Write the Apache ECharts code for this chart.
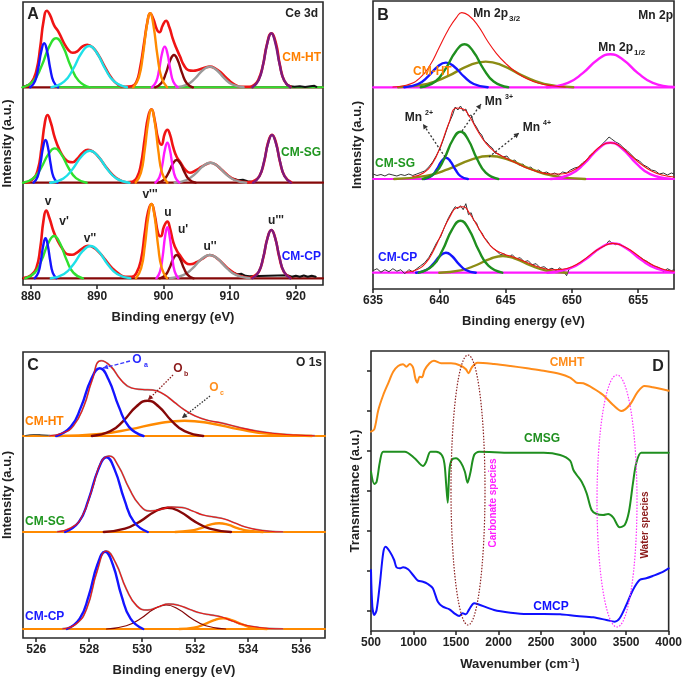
<!DOCTYPE html>
<html><head><meta charset="utf-8">
<script src="https://cdn.jsdelivr.net/npm/echarts@6/dist/echarts.min.js"></script>
<style>html,body{margin:0;padding:0;background:#fff}#c{width:685px;height:680px}</style>
</head><body><div id="c"></div>
<script>
// ---------------- Panel A : Ce 3d (binding energy eV, intensity a.u. above each stack baseline) -------------
const A_xTicks = [880, 890, 900, 910, 920];
const A_xRange = [878.8, 924.1];
// CM-HT
const A_HT_red = [[879.0,0.5],[880.0,4],[880.8,16],[881.4,40],[881.9,66],[882.4,76.5],[882.9,72],[883.5,62],[884.2,55],[885.0,44],[885.7,37],[886.3,34.5],[887.0,36],[887.8,41],[888.5,42.5],[889.3,40],[890.2,32],[891.2,20],[892.2,9],[893.2,2.5],[894.2,0.5],[895.2,1],[895.9,5],[896.5,20],[897.1,45],[897.6,66],[898.0,74],[898.5,68],[899.0,58],[899.4,55],[899.9,62],[900.4,66.5],[900.9,60],[901.4,49],[901.9,40],[902.5,31],[903.1,22],[903.8,17],[904.5,16.5],[905.3,17.5],[906.2,19.5],[907.0,20.7],[907.8,19],[908.8,14],[909.8,7.5],[910.7,3],[911.7,0.5],[913.0,0.5],[913.6,2],[914.3,7],[915.0,21],[915.6,42],[916.3,54],[917.0,44],[917.6,22],[918.3,6],[919.2,0.5]];
const A_HT_blue = [[879.9,0],[880.6,5.9],[881.09,18.9],[881.58,36.7],[882.0,44],[882.42,36.7],[882.91,18.9],[883.4,5.9],[884.1,0]];
const A_HT_green = [[878.7,0],[880.4,6.6],[881.59,21.1],[882.78,40.9],[883.8,49],[884.82,40.9],[886.01,21.1],[887.2,6.6],[888.9,0]];
const A_HT_cyan = [[883.1,0],[885.0,5.6],[886.33,17.8],[887.66,34.5],[888.8,41.3],[889.94,34.5],[891.27,17.8],[892.6,5.6],[894.5,0]];
const A_HT_orange = [[895.45,0],[896.3,10],[896.9,31.8],[897.5,61.8],[898.0,74],[898.5,61.8],[899.1,31.8],[899.7,10],[900.55,0]];
const A_HT_magenta = [[898.25,0],[898.9,5.5],[899.35,17.5],[899.8,34],[900.2,40.7],[900.6,34],[901.05,17.5],[901.5,5.5],[902.15,0]];
const A_HT_darkred = [[898.75,0],[899.7,4.4],[900.37,13.9],[901.03,27],[901.6,32.3],[902.17,27],[902.84,13.9],[903.5,4.4],[904.45,0]];
const A_HT_gray = [[901.9,0],[903.6,2.8],[904.79,8.9],[905.98,17.3],[907.0,20.7],[908.02,17.3],[909.21,8.9],[910.4,2.8],[912.1,0]];
const A_HT_purple = [[913.45,0],[914.4,7.3],[915.07,23.2],[915.73,45.1],[916.3,54],[916.87,45.1],[917.54,23.2],[918.2,7.3],[919.15,0]];
const A_HT_rawL = [[878.9,0.5],[879.3,1.5],[879.7,2.5],[880.1,5],[880.5,9]];
const A_HT_rawR = [[918.6,3],[919.2,1],[919.8,0.5],[920.6,1],[921.4,0.3],[922.2,1],[922.8,1.5],[923.1,0.5]];
// CM-SG
const A_SG_red = [[879.2,0],[880.2,3],[881.0,12],[881.6,35],[882.1,60],[882.5,67.7],[883.0,60],[883.6,45],[884.3,33],[885.0,25],[885.7,21],[886.3,20.5],[887.0,24],[887.8,30],[888.6,33],[889.4,31],[890.3,25],[891.3,16],[892.3,8],[893.3,3],[894.4,0.5],[895.3,1],[896.0,5],[896.6,18],[897.2,45],[897.7,66],[898.2,73.3],[898.7,62],[899.2,44],[899.7,38],[900.2,49],[900.6,53],[901.0,48],[901.5,35],[902.0,26],[902.6,20],[903.3,13],[904.0,10],[904.8,12],[905.8,16],[906.6,19],[907.1,20],[907.8,18.5],[908.8,13],[909.8,7],[910.8,3],[911.8,1],[913.0,0.5],[913.6,1.5],[914.5,6.5],[915.2,20.5],[915.8,40],[916.4,48],[917.0,40],[917.6,21],[918.3,6.5],[919.3,0.5]];
const A_SG_blue = [[880.4,0],[881.0,5.8],[881.42,18.4],[881.84,35.7],[882.2,42.7],[882.56,35.7],[882.98,18.4],[883.4,5.8],[884.0,0]];
const A_SG_green = [[878.8,0],[880.4,4.6],[881.52,14.7],[882.64,28.6],[883.6,34.3],[884.56,28.6],[885.68,14.7],[886.8,4.6],[888.4,0]];
const A_SG_cyan = [[882.9,0],[884.9,4.3],[886.3,13.8],[887.7,26.7],[888.9,32],[890.1,26.7],[891.5,13.8],[892.9,4.3],[894.9,0]];
const A_SG_orange = [[895.8,0],[896.6,9.9],[897.16,31.5],[897.72,61.2],[898.2,73.3],[898.68,61.2],[899.24,31.5],[899.8,9.9],[900.6,0]];
const A_SG_magenta = [[898.8,0],[899.4,5.4],[899.82,17.2],[900.24,33.4],[900.6,40],[900.96,33.4],[901.38,17.2],[901.8,5.4],[902.4,0]];
const A_SG_darkred = [[899.15,0],[900.1,3.1],[900.77,9.8],[901.43,19],[902.0,22.7],[902.57,19],[903.24,9.8],[903.9,3.1],[904.85,0]];
const A_SG_gray = [[901.7,0],[903.5,2.7],[904.76,8.6],[906.02,16.7],[907.1,20],[908.18,16.7],[909.44,8.6],[910.7,2.7],[912.5,0]];
const A_SG_purple = [[913.55,0],[914.5,6.4],[915.17,20.5],[915.83,39.8],[916.4,47.7],[916.97,39.8],[917.64,20.5],[918.3,6.4],[919.25,0]];
const A_SG_rawL = [[879.0,0.3],[879.6,1],[880.2,3],[880.6,6]];
const A_SG_rawR = [[910.6,4],[911.3,2.5],[912.0,3],[912.7,1.5],[913.3,1]];
// CM-CP
const A_CP_red = [[879.0,0.5],[880.0,3],[880.8,10],[881.4,30],[881.9,58],[882.3,67.7],[882.8,60],[883.4,47],[884.0,38],[884.8,29],[885.5,24],[886.2,23.5],[887.0,26],[887.8,30],[888.6,32.5],[889.4,31],[890.3,26],[891.3,18],[892.3,10],[893.3,4.5],[894.3,1.5],[895.2,1.5],[895.9,5],[896.6,18],[897.2,46],[897.7,67],[898.2,74.3],[898.7,63],[899.2,45],[899.6,42],[900.1,52],[900.6,56.7],[901.0,50],[901.5,36],[902.0,28],[902.6,22],[903.3,16],[904.0,14],[905.0,16],[906.0,20],[907.0,23.3],[908.0,20.5],[909.0,14.5],[910.0,8.5],[911.0,4],[912.0,1.5],[913.0,0.5],[913.6,2],[914.4,6.5],[915.1,21],[915.7,40],[916.3,48.3],[916.9,40],[917.5,21],[918.2,6.5],[919.2,0.5]];
const A_CP_blue = [[880.55,0],[881.1,5.4],[881.49,17.2],[881.87,33.4],[882.2,40],[882.53,33.4],[882.92,17.2],[883.3,5.4],[883.85,0]];
const A_CP_green = [[879.15,0],[880.6,5.7],[881.62,18.2],[882.63,35.3],[883.5,42.3],[884.37,35.3],[885.39,18.2],[886.4,5.7],[887.85,0]];
const A_CP_cyan = [[883.0,0],[885.0,4.4],[886.4,13.9],[887.8,27],[889.0,32.3],[890.2,27],[891.6,13.9],[893.0,4.4],[895.0,0]];
const A_CP_orange = [[895.86,0],[896.64,10],[897.19,31.9],[897.73,62],[898.2,74.3],[898.67,62],[899.21,31.9],[899.76,10],[900.54,0]];
const A_CP_magenta = [[898.95,0],[899.5,6.9],[899.89,21.9],[900.27,42.6],[900.6,51],[900.93,42.6],[901.32,21.9],[901.7,6.9],[902.25,0]];
const A_CP_darkred = [[899.45,0],[900.3,3.1],[900.9,10],[901.49,19.5],[902.0,23.3],[902.51,19.5],[903.1,10],[903.7,3.1],[904.55,0]];
const A_CP_gray = [[901.0,0],[903.0,3.1],[904.4,10],[905.8,19.5],[907.0,23.3],[908.2,19.5],[909.6,10],[911.0,3.1],[913.0,0]];
const A_CP_purple = [[913.45,0],[914.4,6.5],[915.07,20.8],[915.73,40.3],[916.3,48.3],[916.87,40.3],[917.54,20.8],[918.2,6.5],[919.15,0]];
const A_CP_rawL = [[879.2,0.3],[879.8,1.5],[880.3,4],[880.6,7]];
const A_CP_rawR = [[910.5,6],[911.2,4],[911.8,4.5],[912.4,2.5],[913.0,2],[918.7,3],[919.4,1.5],[920.0,2.5],[920.6,1.5],[921.2,2.8],[921.8,1.5],[922.4,2.5],[923.0,1.5]];

// ---------------- Panel B : Mn 2p -------------
const B_xTicks = [635, 640, 645, 650, 655];
const B_xRange = [635, 657.7];
const B_HT_red = [[636.5,0.3],[637.5,2],[638.5,9],[639.3,22],[640.0,40],[640.7,58],[641.3,70],[641.7,74.7],[642.2,72],[642.9,62],[643.6,47],[644.3,34],[645.0,24],[645.8,15],[646.6,8.5],[647.5,4],[648.5,1.5],[649.5,0.3]];
const B_HT_blue = [[637.35,0],[638.4,3.3],[639.14,10.6],[639.87,20.6],[640.5,24.7],[641.13,20.6],[641.87,10.6],[642.6,3.3],[643.65,0]];
const B_HT_green = [[638.6,0],[639.7,5.8],[640.47,18.5],[641.24,35.9],[641.9,43],[642.56,35.9],[643.33,18.5],[644.1,5.8],[645.2,0]];
const B_HT_olive = [[636.9,0],[639.1,3.5],[640.64,11.1],[642.18,21.5],[643.5,25.7],[644.82,21.5],[646.36,11.1],[647.9,3.5],[650.1,0]];
const B_HT_magenta = [[648.1,0],[649.7,4.5],[650.82,14.2],[651.94,27.6],[652.9,33],[653.86,27.6],[654.98,14.2],[656.1,4.5],[657.7,0.3]];
const B_SG_raw = [[635.0,5],[635.3,3.5],[635.6,4.5],[635.9,3],[636.2,5],[636.5,4],[636.8,3],[637.1,4.5],[637.4,3.5],[637.7,5],[638.0,3.5],[638.3,5],[638.6,6.5],[638.9,8],[639.2,12],[639.5,17],[639.8,24],[640.1,32],[640.4,43],[640.7,55],[641.0,64],[641.2,72],[641.4,69],[641.6,73],[641.8,68],[642.0,70],[642.2,63],[642.4,64],[642.6,56],[642.8,52],[643.0,47],[643.2,44],[643.4,38],[643.6,36],[643.8,33],[644.0,31],[644.2,26],[644.5,25],[644.8,22],[645.1,23],[645.4,18],[645.7,19],[646.0,14],[646.3,15],[646.6,11],[646.9,12],[647.2,8],[647.5,9],[647.8,6],[648.1,7],[648.4,4.5],[648.7,6],[649.0,4],[649.3,7],[649.6,6],[649.9,9],[650.2,11],[650.5,12],[650.8,16],[651.1,19],[651.4,24],[651.7,27],[652.0,31],[652.3,35],[652.6,39],[652.8,42],[653.0,40],[653.3,37],[653.6,35],[653.9,31],[654.2,28],[654.5,24],[654.8,20],[655.1,18],[655.4,14],[655.7,12],[656.0,9],[656.3,8],[656.6,5],[656.9,6],[657.2,4],[657.5,6],[657.7,5]];
const B_SG_red = [[638.0,2.5],[638.8,6],[639.5,16],[640.1,33],[640.7,55],[641.3,71],[641.8,70],[642.3,62],[642.9,48],[643.5,36],[644.2,27],[645.0,21],[645.8,16],[646.6,11],[647.5,7],[648.4,5],[649.2,5],[650.0,8],[650.8,15],[651.6,26],[652.3,34],[652.9,36.3],[653.6,33],[654.4,24],[655.2,15],[656.0,8],[656.8,4],[657.7,2]];
const B_SG_blue = [[638.85,0],[639.4,2.9],[639.79,9.2],[640.17,17.8],[640.5,21.3],[640.83,17.8],[641.22,9.2],[641.6,2.9],[642.15,0]];
const B_SG_green = [[638.75,0],[639.7,6.4],[640.37,20.3],[641.03,39.5],[641.6,47.3],[642.17,39.5],[642.84,20.3],[643.5,6.4],[644.45,0]];
const B_SG_olive = [[636.6,0],[639.0,3.1],[640.68,9.9],[642.36,19.2],[643.8,23],[645.24,19.2],[646.92,9.9],[648.6,3.1],[651.0,0]];
const B_SG_magenta = [[648.4,0],[649.9,4.9],[650.95,15.6],[652.0,30.3],[652.9,36.3],[653.8,30.3],[654.85,15.6],[655.9,4.9],[657.4,0.4]];
const B_CP_raw = [[635.0,2],[635.3,4],[635.6,0.5],[635.9,3],[636.2,1],[636.5,4],[636.8,1.5],[637.1,3],[637.4,-1],[637.7,3],[638.0,1],[638.3,4],[638.6,7],[638.9,10],[639.2,15],[639.5,22],[639.8,30],[640.1,36],[640.4,46],[640.7,55],[641.0,62],[641.2,66],[641.4,64],[641.6,67],[641.8,63],[642.0,69],[642.2,58],[642.4,60],[642.6,52],[642.8,50],[643.0,43],[643.2,40],[643.4,35],[643.6,32],[643.8,28],[644.0,25],[644.3,22],[644.6,18],[644.9,19],[645.2,15],[645.5,18],[645.8,14],[646.1,15],[646.4,11],[646.7,12],[647.0,8],[647.3,9],[647.6,5],[647.9,6],[648.2,3],[648.5,4.5],[648.8,2],[649.1,5],[649.4,1],[649.6,-3],[649.8,4],[650.1,6],[650.4,8],[650.7,10],[651.0,13],[651.3,17],[651.6,19],[651.9,22],[652.2,25],[652.5,27],[652.8,32],[653.0,30],[653.3,28],[653.6,29],[653.9,26],[654.2,24],[654.5,21],[654.8,18],[655.1,16],[655.4,13],[655.7,11],[656.0,8],[656.3,6],[656.6,5],[656.9,1],[657.2,4],[657.5,2],[657.7,3]];
const B_CP_red = [[637.5,0.5],[638.3,3],[639.0,10],[639.6,23],[640.2,40],[640.8,56],[641.3,65],[641.8,66],[642.3,59],[642.9,46],[643.5,33],[644.1,24],[644.8,19],[645.5,16],[646.2,12.5],[647.0,8],[647.8,4.5],[648.5,3],[649.3,3.5],[650.0,6],[650.8,12],[651.6,20],[652.4,26.5],[653.1,29.3],[653.8,27],[654.6,21],[655.4,13],[656.2,7],[657.0,3],[657.7,1.5]];
const B_CP_blue = [[638.25,0],[639.0,2.7],[639.53,8.6],[640.05,16.7],[640.5,20],[640.95,16.7],[641.48,8.6],[642.0,2.7],[642.75,0]];
const B_CP_green = [[638.45,0],[639.5,7],[640.24,22.4],[640.97,43.4],[641.6,52],[642.23,43.4],[642.97,22.4],[643.7,7],[644.75,0]];
const B_CP_olive = [[640.0,0],[641.6,2.3],[642.72,7.2],[643.84,13.9],[644.8,16.7],[645.76,13.9],[646.88,7.2],[648.0,2.3],[649.6,0]];
const B_CP_magenta = [[648.15,0],[649.8,4],[650.96,12.6],[652.11,24.5],[653.1,29.3],[654.09,24.5],[655.25,12.6],[656.4,4],[657.7,0.6]];

// ---------------- Panel C : O 1s -------------
const C_xTicks = [526, 528, 530, 532, 534, 536];
const C_xRange = [525.5, 536.9];
const C_HT_red = [[526.5,0.3],[527.0,3],[527.4,10],[527.8,30],[528.1,55],[528.45,75.3],[528.8,70],[529.2,56],[529.6,48],[530.0,46.5],[530.4,46],[530.8,42],[531.2,34],[531.6,26],[532.0,20],[532.5,15.5],[533.0,13],[533.6,9],[534.3,5],[535.0,2.5],[535.8,1],[536.5,0.3]];
const C_HT_blue = [[526.75,0],[527.3,9.1],[527.69,29.1],[528.07,56.5],[528.4,67.7],[528.73,56.5],[529.12,29.1],[529.5,9.1],[530.05,0]];
const C_HT_darkred = [[528.1,0],[528.8,4.8],[529.29,15.2],[529.78,29.5],[530.2,35.3],[530.62,29.5],[531.11,15.2],[531.6,4.8],[532.3,0]];
const C_HT_orange = [[526.8,0],[528.4,2.1],[529.52,6.6],[530.64,12.8],[531.6,15.3],[532.56,12.8],[533.68,6.6],[534.8,2.1],[536.4,0]];
const C_HT_raw = [[525.6,0.5],[525.9,1.5],[526.2,1.2],[526.5,0.6]];
const C_SG_red = [[526.8,0.3],[527.3,4],[527.7,14],[528.1,42],[528.45,70],[528.75,76],[529.1,66],[529.5,44],[529.9,27],[530.3,21],[530.7,22.5],[531.1,25],[531.5,24.5],[531.9,21],[532.3,17],[532.7,15],[533.1,13],[533.5,9],[533.9,5],[534.3,2.5],[534.8,0.8],[535.3,0.2]];
const C_SG_blue = [[527.09,0],[527.61,10.1],[527.97,32.1],[528.34,62.4],[528.65,74.7],[528.96,62.4],[529.33,32.1],[529.69,10.1],[530.21,0]];
const C_SG_darkred = [[528.55,0],[529.35,3.3],[529.91,10.4],[530.47,20.3],[530.95,24.3],[531.43,20.3],[531.99,10.4],[532.55,3.3],[533.35,0]];
const C_SG_orange = [[531.25,0],[531.8,1.2],[532.19,3.7],[532.57,7.3],[532.9,8.7],[533.23,7.3],[533.62,3.7],[534.0,1.2],[534.55,0]];
const C_CP_red = [[527.0,0.3],[527.5,5],[527.9,20],[528.3,58],[528.65,78],[529.0,66],[529.4,40],[529.8,23],[530.2,19],[530.6,22],[531.0,25],[531.4,23.5],[531.8,19.5],[532.2,16],[532.6,14],[533.0,12],[533.4,8],[533.8,4.5],[534.3,2],[534.8,0.5],[535.3,0.2]];
const C_CP_blue = [[527.16,0],[527.64,10.4],[527.98,33.2],[528.31,64.5],[528.6,77.3],[528.89,64.5],[529.22,33.2],[529.56,10.4],[530.04,0]];
const C_CP_darkred = [[528.65,0],[529.4,3.2],[529.93,10.3],[530.45,20],[530.9,24],[531.35,20],[531.88,10.3],[532.4,3.2],[533.15,0]];
const C_CP_orange = [[531.4,0],[531.95,1.4],[532.34,4.6],[532.72,8.9],[533.05,10.7],[533.38,8.9],[533.77,4.6],[534.15,1.4],[534.7,0]];

// ---------------- Panel D : FTIR (wavenumber, transmittance a.u.) -------------
const D_xTicks = [500, 1000, 1500, 2000, 2500, 3000, 3500, 4000];
const D_xRange = [500, 4000];
const D_CMHT = [[500,199.3],[539,201.7],[586,221],[644,236],[702,247.7],[761,259.3],[819,265],[877,266.7],[916,264.3],[955,267],[994,263.7],[1021,252.7],[1044,248.3],[1072,254.3],[1099,253.7],[1130,261],[1188,267.7],[1239,270.3],[1324,267.7],[1441,267.7],[1558,265.3],[1616,261.7],[1647,257.7],[1686,263.7],[1752,268.3],[1947,267],[2141,265],[2336,262.7],[2530,260.3],[2724,257],[2841,253.3],[2888,250.3],[2919,248.3],[2997,247.7],[3113,242.7],[3230,236],[3347,226],[3444,220],[3541,226],[3638,239.3],[3716,245],[3813,243.7],[4000,240.3]];
const D_CMSG = [[500,159.3],[539,147],[566,149.3],[605,169.3],[644,179.3],[780,179.3],[897,179.3],[1013,172.7],[1111,165],[1149,169.3],[1200,179.3],[1266,179.3],[1332,176],[1363,167.7],[1383,147.7],[1402,128.3],[1422,161],[1449,171],[1499,172.7],[1558,168.3],[1604,159.3],[1635,148.3],[1667,157.7],[1713,176],[1772,179.3],[2141,178.3],[2530,178.3],[2724,176],[2841,170.3],[2880,161],[2919,156],[2977,149.3],[3036,137.7],[3094,121],[3152,117],[3230,116],[3288,117],[3347,113.7],[3424,103.7],[3483,106],[3533,119.3],[3580,147.7],[3619,167.7],[3677,178.3],[3813,178.3],[4000,178.3]];
const D_CMCP = [[500,61],[516,24.3],[539,16],[566,21],[605,47.7],[644,78.3],[671,84.3],[722,79.3],[772,71],[799,63.7],[838,62.7],[877,63.7],[936,61.7],[994,56],[1052,50.3],[1111,49.3],[1169,47],[1227,42.7],[1286,29.3],[1344,24.3],[1422,21.7],[1480,17.7],[1538,15],[1577,17.7],[1616,16.7],[1655,21.7],[1713,27.7],[1752,27],[1947,21],[2141,18.3],[2336,17],[2530,17],[2724,16.7],[2919,15],[3113,13.7],[3269,11],[3366,9.3],[3424,12.7],[3502,26],[3580,41],[3658,51],[3736,52.7],[3813,55],[3911,58.3],[4000,62.7]];

// ---------------- build -------------
const FONT = '"Liberation Sans", Arial, Helvetica, sans-serif';
const INK = '#222';
const COL = {blue:'#1414ff', green:'#2fe02f', cyan:'#1ee0e8', orange:'#ff8a00', magenta:'#ff1aff', darkred:'#850808',
  gray:'#9a9a9a', purple:'#7d1a7d', red:'#f01414', olive:'#8c8c14', dgreen:'#1f8f1f', black:'#111'};
const grids = [
  {left:22, top:2, width:301, height:283},
  {left:373, top:1, width:301, height:288},
  {left:22, top:352, width:303, height:286},
  {left:371, top:351, width:300, height:280}
];
const yMax = grids.map(g => g.height);
const A_base = {HT:197.7, SG:102.3, CP:6.7};
const B_base = {HT:201.7, SG:110, CP:16.3};
const C_base = {HT:202, SG:106, CP:9};

const series = [];
function add(g, pts, base, color, width, z, smooth) {
  series.push({type:'line', xAxisIndex:g, yAxisIndex:g, showSymbol:false, symbol:'none',
    smooth: smooth === undefined ? 0.5 : smooth, silent:true, animation:false, z:z,
    lineStyle:{color:color, width:width, join:'round', cap:'round'}, data: pts.map(p => [p[0], p[1] + base])});
}
function baseline(g, range, base, color, width, z) {
  add(g, [[range[0],0],[range[1],0]], base, color, width, z, false);
}
// Panel A
const A_sets = {
  HT:{red:A_HT_red, blue:A_HT_blue, green:A_HT_green, cyan:A_HT_cyan, orange:A_HT_orange, magenta:A_HT_magenta, darkred:A_HT_darkred, gray:A_HT_gray, purple:A_HT_purple, raw:[A_HT_rawL, A_HT_rawR]},
  SG:{red:A_SG_red, blue:A_SG_blue, green:A_SG_green, cyan:A_SG_cyan, orange:A_SG_orange, magenta:A_SG_magenta, darkred:A_SG_darkred, gray:A_SG_gray, purple:A_SG_purple, raw:[A_SG_rawL, A_SG_rawR]},
  CP:{red:A_CP_red, blue:A_CP_blue, green:A_CP_green, cyan:A_CP_cyan, orange:A_CP_orange, magenta:A_CP_magenta, darkred:A_CP_darkred, gray:A_CP_gray, purple:A_CP_purple, raw:[A_CP_rawL, A_CP_rawR]}
};
for (const k of ['HT','SG','CP']) {
  const s = A_sets[k], b = A_base[k];
  baseline(0, A_xRange, b, COL.darkred, 2.2, 1);
  if (k === 'HT') add(0, [[884,0],[A_xRange[1],0]], b, COL.green, 2, 1, false);
  s.raw.forEach(r => add(0, r, b, COL.black, 2, 2, false));
  add(0, s.red, b, COL.red, 2.6, 3);
  for (const c of ['green','blue','cyan','gray','darkred','magenta','orange','purple']) add(0, s[c], b, COL[c], 2.4, 4);
}
// Panel B
const B_sets = {
  HT:{red:B_HT_red, blue:B_HT_blue, green:B_HT_green, olive:B_HT_olive, magenta:B_HT_magenta},
  SG:{raw:B_SG_raw, red:B_SG_red, blue:B_SG_blue, green:B_SG_green, olive:B_SG_olive, magenta:B_SG_magenta},
  CP:{raw:B_CP_raw, red:B_CP_red, blue:B_CP_blue, green:B_CP_green, olive:B_CP_olive, magenta:B_CP_magenta}
};
for (const k of ['HT','SG','CP']) {
  const s = B_sets[k], b = B_base[k];
  baseline(1, B_xRange, b, COL.magenta, 2.2, 1);
  if (s.raw) add(1, s.raw, b, '#333', 1, 2, false);
  for (const c of ['olive','blue','green','magenta']) add(1, s[c], b, c === 'green' ? COL.dgreen : COL[c], 2.4, 3);
  add(1, s.red, b, COL.red, 1.1, 5);
}
// Panel C
const C_sets = {
  HT:{red:C_HT_red, blue:C_HT_blue, darkred:C_HT_darkred, orange:C_HT_orange, raw:C_HT_raw},
  SG:{red:C_SG_red, blue:C_SG_blue, darkred:C_SG_darkred, orange:C_SG_orange},
  CP:{red:C_CP_red, blue:C_CP_blue, darkred:C_CP_darkred, orange:C_CP_orange}
};
for (const k of ['HT','SG','CP']) {
  const s = C_sets[k], b = C_base[k];
  if (s.raw) add(2, s.raw, b, '#555', 1.2, 2);
  baseline(2, C_xRange, b, COL.orange, 2.2, 1);
  add(2, s.red, b, '#9a9a9a', 1.8, 2);
  add(2, s.orange, b, COL.orange, 2.4, 3);
  add(2, s.darkred, b, COL.darkred, k === 'CP' ? 1.2 : 2.4, 3);
  add(2, s.blue, b, COL.blue, 2.4, 3);
  add(2, s.red, b, COL.red, 1.1, 5);
}
// Panel D
add(3, D_CMHT, 0, '#ff8c1a', 2, 3, 0.3);
add(3, D_CMSG, 0, '#1f8f1f', 2, 3, 0.3);
add(3, D_CMCP, 0, '#1010ff', 2, 3, 0.3);

function xAxis(g, range, ticks, name, extra) {
  return Object.assign({type:'value', gridIndex:g, min:range[0], max:range[1],
    axisLine:{show:false}, splitLine:{show:false},
    axisTick:{show:true, inside:false, length:4, customValues:ticks, lineStyle:{color:INK, width:1.5}},
    axisLabel:{show:true, customValues:ticks, margin:6, color:INK, fontWeight:'bold', fontSize:12, fontFamily:FONT, formatter: v => String(v)},
    name:name, nameLocation:'middle', nameGap:26,
    nameTextStyle:{color:INK, fontWeight:'bold', fontSize:13, fontFamily:FONT}}, extra || {});
}
function yAxis(g, name, ticks) {
  return {type:'value', gridIndex:g, min:0, max:yMax[g], axisLine:{show:false}, splitLine:{show:false},
    axisLabel:{show:false},
    axisTick: ticks ? {show:true, inside:false, length:4, customValues:ticks, lineStyle:{color:INK, width:1.5}} : {show:false},
    name:name, nameLocation:'middle', nameGap:9, nameRotate:90,
    nameTextStyle:{color:INK, fontWeight:'bold', fontSize:13, fontFamily:FONT}};
}
const D_yTicks = [20, 60, 100, 140, 180, 220, 260];

// annotations
const G = [];
function T(x, y, text, color, size, align, rot) {
  G.push({type:'text', x:x, y:y, rotation:rot || 0, z:100, silent:true,
    style:{text:text, fill:color, font:'bold ' + size + 'px ' + FONT, align:align || 'center', textAlign:align || 'center',
      verticalAlign:'middle', textVerticalAlign:'middle'}});
}
function arrow(x1, y1, x2, y2, color, dash) {
  G.push({type:'line', z:100, silent:true, shape:{x1:x1, y1:y1, x2:x2, y2:y2}, style:{stroke:color, lineWidth:1.3, lineDash:dash}});
  const dx = x2 - x1, dy = y2 - y1, L = Math.hypot(dx, dy), ux = dx / L, uy = dy / L, h = 5, w = 2.6;
  G.push({type:'polygon', z:100, silent:true, shape:{points:[[x2, y2], [x2 - ux*h - uy*w, y2 - uy*h + ux*w], [x2 - ux*h + uy*w, y2 - uy*h - ux*w]]}, style:{fill:color}});
}
const LBL = {orange:'#ff8000', green:'#1f961f', blue:'#1a1aff'};
// A
T(33, 15, 'A', INK, 16);
T(318, 14, 'Ce 3d', INK, 12, 'right');
T(321, 58, 'CM-HT', LBL.orange, 12, 'right');
T(321, 153, 'CM-SG', LBL.green, 12, 'right');
T(321, 257, 'CM-CP', LBL.blue, 12, 'right');
T(48, 202, 'v', INK, 12); T(64, 222, "v'", INK, 12); T(90, 239, "v''", INK, 12); T(150, 195, "v'''", INK, 12);
T(168, 213, 'u', INK, 12); T(183, 230, "u'", INK, 12); T(210, 247, "u''", INK, 12); T(276, 221, "u'''", INK, 12);
// B
T(383, 16, 'B', INK, 16);
T(673, 16, 'Mn 2p', INK, 12, 'right');
T(508, 14, 'Mn 2p', INK, 12, 'right'); T(509, 19, '3/2', INK, 8, 'left');
T(633, 48, 'Mn 2p', INK, 12, 'right'); T(634, 53, '1/2', INK, 8, 'left');
T(413, 72, 'CM-HT', LBL.orange, 12, 'left');
T(375, 164, 'CM-SG', LBL.green, 12, 'left');
T(378, 258, 'CM-CP', LBL.blue, 12, 'left');
T(422, 118, 'Mn', INK, 12, 'right'); T(425, 113, '2+', INK, 7, 'left');
T(502, 102, 'Mn', INK, 12, 'right'); T(505, 97, '3+', INK, 7, 'left');
T(540, 128, 'Mn', INK, 12, 'right'); T(543, 123, '4+', INK, 7, 'left');
arrow(445, 157, 423, 124, '#333', [2, 2]);
arrow(462, 131, 481, 104, '#333', [2, 2]);
arrow(489, 157, 519, 133, '#333', [2, 2]);
// C
T(33, 366, 'C', INK, 16);
T(322, 363, 'O 1s', INK, 12, 'right');
T(25, 422, 'CM-HT', LBL.orange, 12, 'left');
T(25, 522, 'CM-SG', LBL.green, 12, 'left');
T(25, 617, 'CM-CP', LBL.blue, 12, 'left');
T(137, 360, 'O', '#2a2aff', 12); T(144, 365, 'a', '#2a2aff', 7, 'left');
T(178, 369, 'O', '#8b1a1a', 12); T(184, 374, 'b', '#8b1a1a', 7, 'left');
T(214, 388, 'O', '#ff9020', 12); T(220, 393, 'c', '#ff9020', 7, 'left');
arrow(130, 361, 103, 368, '#3a3aff', [4, 2]);
arrow(173, 375, 148, 400, '#8b1a1a', [1.5, 1.5]);
arrow(210, 396, 182, 418, '#333', [1.5, 1.5]);
// D
T(658, 367, 'D', INK, 16);
T(567, 363, 'CMHT', '#ff8c1a', 12);
T(542, 439, 'CMSG', '#1f8f1f', 12);
T(551, 607, 'CMCP', '#1010ff', 12);
G.push({type:'ellipse', z:90, silent:true, shape:{cx:468, cy:490, rx:17, ry:135}, style:{fill:'none', stroke:'#8b2020', lineWidth:1.2, lineDash:[1.5, 1.5]}});
G.push({type:'ellipse', z:90, silent:true, shape:{cx:617, cy:501, rx:20, ry:126}, style:{fill:'none', stroke:'#ff30ff', lineWidth:1.2, lineDash:[1.5, 1.5]}});
T(493, 503, 'Carbonate species', '#ff20ff', 10, 'center', Math.PI / 2);
T(645, 525, 'Water species', '#8b1a1a', 10, 'center', Math.PI / 2);

const option = {
  backgroundColor:'#fff', animation:false,
  grid: grids.map(g => Object.assign({show:true, borderColor:'#2a2a2a', borderWidth:1.6, containLabel:false}, g)),
  xAxis: [
    xAxis(0, A_xRange, A_xTicks, 'Binding energy (eV)'),
    xAxis(1, B_xRange, B_xTicks, 'Binding energy (eV)'),
    xAxis(2, C_xRange, C_xTicks, 'Binding energy (eV)'),
    xAxis(3, D_xRange, D_xTicks, 'Wavenumber (cm{s|-1}{n|)}', {nameTextStyle:{color:INK, fontWeight:'bold', fontSize:13, fontFamily:FONT,
      rich:{s:{fontSize:8, fontWeight:'bold', fontFamily:FONT, color:INK, verticalAlign:'top', padding:[0,0,6,0]},
            n:{fontSize:13, fontWeight:'bold', fontFamily:FONT, color:INK}}}})
  ],
  yAxis: [yAxis(0, 'Intensity (a.u.)'), yAxis(1, 'Intensity (a.u.)'), yAxis(2, 'Intensity (a.u.)'), yAxis(3, 'Transmittance (a.u.)', D_yTicks)],
  series: series,
  graphic: G
};
const chart = echarts.init(document.getElementById('c'), null, {renderer:'canvas'});
chart.setOption(option);
</script></body></html>
